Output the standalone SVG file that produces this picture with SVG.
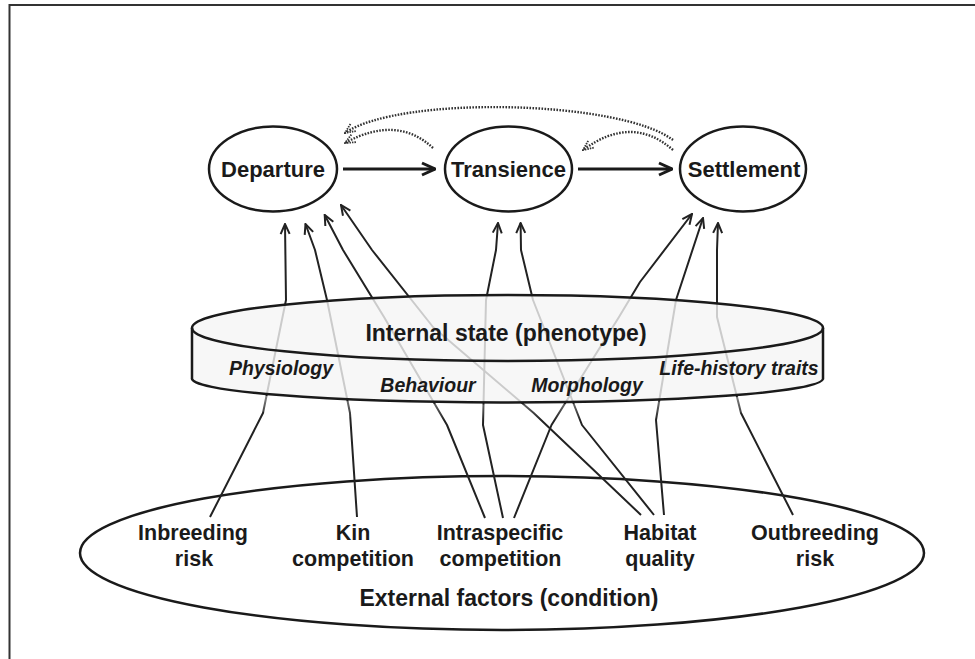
<svg xmlns="http://www.w3.org/2000/svg" width="975" height="659" viewBox="0 0 975 659">
<style>
text{font-family:"Liberation Sans",Arial,Helvetica,sans-serif;fill:#1a1a1a;text-anchor:middle}
.nb{font-weight:bold;font-size:22px}
.tt{font-weight:bold;font-size:23px}
.it{font-weight:bold;font-style:italic;font-size:19.5px}
.lb{font-weight:bold;font-size:21.5px}
.ell{fill:#fff;stroke:#1a1a1a;stroke-width:2.5}
.con{fill:none;stroke:#222;stroke-width:2;stroke-linejoin:round;marker-end:url(#ah)}
.main{fill:none;stroke:#1a1a1a;stroke-width:3;marker-end:url(#ahb)}
.dot{fill:none;stroke:#333;stroke-width:2.4;stroke-dasharray:1.6 1.4;marker-end:url(#ahd)}
</style>
<defs>
<marker id="ah" viewBox="0 0 12 12" refX="11" refY="6" markerWidth="12" markerHeight="12" markerUnits="userSpaceOnUse" orient="auto"><path d="M1,1.5 L11,6 L1,10.5" fill="none" stroke="#222" stroke-width="2"/></marker>
<marker id="ahb" viewBox="0 0 16 16" refX="15" refY="8" markerWidth="16" markerHeight="16" markerUnits="userSpaceOnUse" orient="auto"><path d="M2,2 L15,8 L2,14" fill="none" stroke="#1a1a1a" stroke-width="3"/></marker>
<marker id="ahd" viewBox="0 0 12 12" refX="11" refY="6" markerWidth="12" markerHeight="12" markerUnits="userSpaceOnUse" orient="auto"><path d="M1,1.5 L11,6 L1,10.5" fill="none" stroke="#333" stroke-width="1.8" stroke-dasharray="1.5 1"/></marker>
<linearGradient id="fade" x1="0" y1="0" x2="0" y2="1"><stop offset="0" stop-color="#fff" stop-opacity="0.75"/><stop offset="1" stop-color="#fff" stop-opacity="0"/></linearGradient>
</defs>
<path d="M9.5,659 V5 H975" fill="none" stroke="#333" stroke-width="2"/>
<g id="external">
<ellipse class="ell" cx="502" cy="553" rx="422" ry="77"/>
<text class="lb" x="193" y="540">Inbreeding</text><text class="lb" x="194" y="566">risk</text>
<text class="lb" x="353" y="540">Kin</text><text class="lb" x="353" y="566">competition</text>
<text class="lb" x="500" y="540">Intraspecific</text><text class="lb" x="500.5" y="566">competition</text>
<text class="lb" x="660" y="540">Habitat</text><text class="lb" x="660" y="566">quality</text>
<text class="lb" x="815" y="540">Outbreeding</text><text class="lb" x="815" y="566">risk</text>
<text class="tt" x="509" y="606">External factors (condition)</text>
</g>
<g id="connectors">
<polyline class="con" points="210,517 263,413 286,300 285,224"/>
<polyline class="con" points="357,517 350,413 327,300 315,250 305.5,224"/>
<polyline class="con" points="485,518 447,425 384,317 343,250 324.7,215"/>
<polyline class="con" points="641,515 533.7,413 433,327 372,250 341,205"/>
<polyline class="con" points="503,518 483,425 486,300 496,250 498,223"/>
<polyline class="con" points="654,515 582,425 533,300 521,250 520.6,223"/>
<polyline class="con" points="514,518 551.5,425 619,317 640,282 692,214"/>
<polyline class="con" points="664,515 656,420 676,300 703,218"/>
<polyline class="con" points="793,515 741,413 717,317 717,250 718,223"/>
<line class="main" x1="343" y1="169" x2="435" y2="169"/>
<line class="main" x1="578" y1="169" x2="672" y2="169"/>
<path class="dot" d="M673,140 C620,100 400,95 345,133"/>
<path class="dot" d="M433,148 Q397,114.5 345,143"/>
<path class="dot" d="M673,150 Q632,114 583,150"/>
</g>
<g id="internal">
<path d="M192,380 A315.5,24 0 0 0 823,381 V397 A315.5,24 0 0 1 192,396 Z" fill="url(#fade)"/>
<g opacity="0.8" fill="#f6f6f6">
<path d="M192,328 V378 A315.5,24 0 0 0 823,379 V328 Z"/>
<ellipse cx="507.5" cy="328" rx="315.5" ry="33"/>
</g>
<path d="M192,328 V378 A315.5,24 0 0 0 823,379 V328" fill="none" stroke="#1a1a1a" stroke-width="2.5"/>
<ellipse cx="507.5" cy="328" rx="315.5" ry="33" fill="none" stroke="#1a1a1a" stroke-width="2.5"/>
<text class="tt" x="506" y="341">Internal state (phenotype)</text>
<text class="it" x="281" y="375">Physiology</text>
<text class="it" x="428" y="392">Behaviour</text>
<text class="it" x="587" y="392">Morphology</text>
<text class="it" x="739" y="375">Life-history traits</text>
</g>
<g id="departure"><ellipse class="ell" cx="273" cy="169" rx="64" ry="42.5"/><text class="nb" x="273" y="177">Departure</text></g>
<g id="transience"><ellipse class="ell" cx="508.5" cy="169" rx="63.5" ry="42.5"/><text class="nb" x="508.5" y="177">Transience</text></g>
<g id="settlement"><ellipse class="ell" cx="743" cy="169" rx="63" ry="42.5"/><text class="nb" x="744" y="177">Settlement</text></g>
</svg>
